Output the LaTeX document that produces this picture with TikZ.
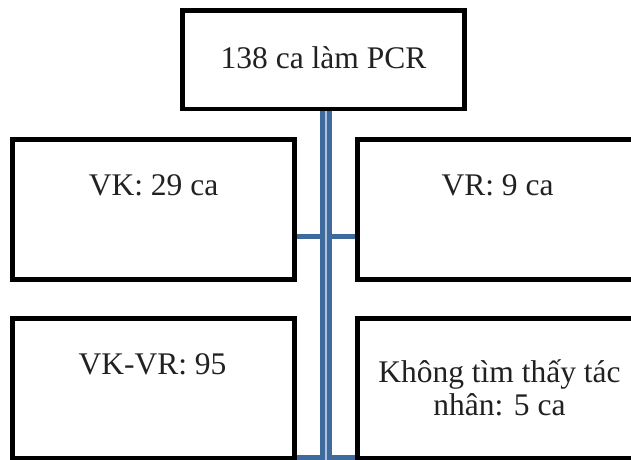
\documentclass[tikz,border=0pt]{standalone}
\usepackage{fontspec}
\setmainfont{Liberation Serif}
\usepackage{tikz}
\pgfdeclarelayer{bg}
\pgfsetlayers{bg,main}
\definecolor{trunkblue}{RGB}{62,106,158}
\definecolor{trunklight}{RGB}{175,194,218}
\tikzset{
  box/.style={rectangle, draw=black, fill=white, line width=4.5pt, inner sep=0pt,
    minimum width=282pt, minimum height=140pt},
  txt/.style={font=\fontsize{31.5}{33}\selectfont, text=black!87, inner sep=0pt, anchor=base},
  branch/.style={draw=trunkblue, line width=4.5pt},
  trunk/.style={draw=trunkblue, line width=5pt, double=trunklight, double distance=1.5pt}
}
\begin{document}
\begin{tikzpicture}
        \useasboundingbox (0pt, 0pt) rectangle (631pt, -459pt);
        \clip (0pt, 0pt) rectangle (631pt, -459pt);
        \node (v0) [box, minimum height=98.5pt] at (323.5pt, -59.75pt) {};
        \node (v1) [box] at (153.5pt, -209.5pt) {};
        \node (v2) [box] at (498.5pt, -209.5pt) {};
        \node (v3) [box] at (153.5pt, -388.5pt) {};
        \node (v4) [box] at (498.5pt, -388.5pt) {};
        \node (t0) [txt] at (323.5pt, -68pt) {138 ca làm PCR};
        \node (t1) [txt] at (153.5pt, -195pt) {VK: 29 ca};
        \node (t2) [txt] at (497.5pt, -195pt) {VR: 9 ca};
        \node (t3) [txt] at (152.5pt, -374pt) {VK-VR: 95};
        \node (t4) [txt, align=center] at (499.5pt, -415pt) {Không tìm thấy tác\\nhân: 5 ca};
        \coordinate (j1) at (326pt, -236.5pt);
        \coordinate (j2) at (326pt, -457.5pt);
        \coordinate (j3) at (326pt, -475pt);
        \begin{pgfonlayer}{bg}
                \draw (v1.east |- j1) edge [branch] (v2.west |- j1);
                \draw (v3.east |- j2) edge [branch] (v4.west |- j2);
        \end{pgfonlayer}
        \draw (v0.south -| j1) edge [trunk] (j3);
\end{tikzpicture}
\end{document}
